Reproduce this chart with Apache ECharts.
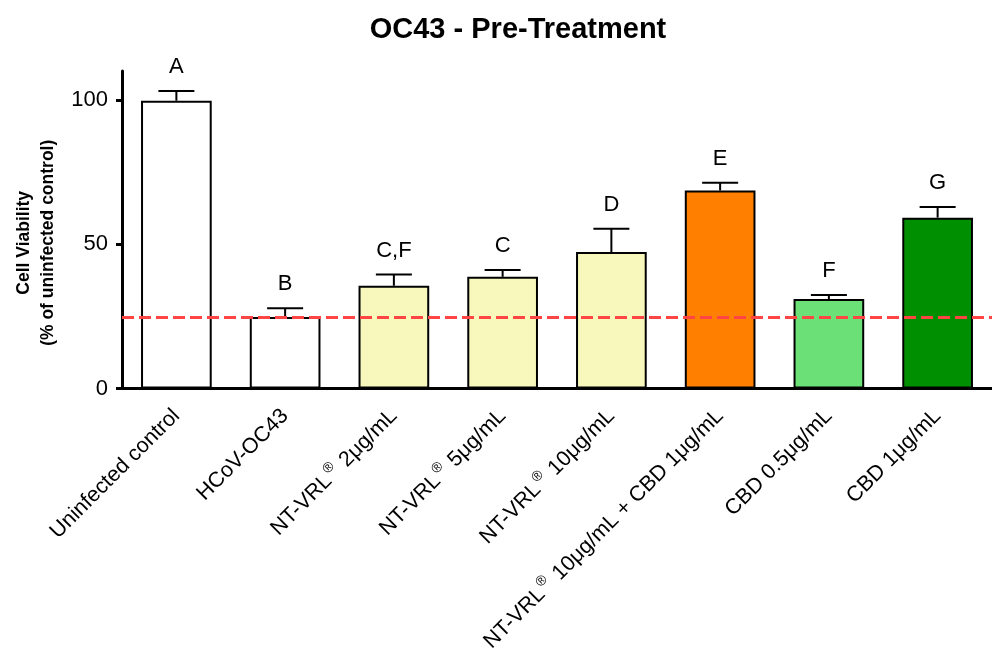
<!DOCTYPE html>
<html>
<head>
<meta charset="utf-8">
<script src="https://cdn.jsdelivr.net/npm/echarts@6/dist/echarts.min.js"></script>
<style>
html,body{margin:0;padding:0;background:#fff;}
#c{width:992px;height:655px;}
</style>
</head>
<body>
<div id="c"></div>
<script>
var categories = ['Uninfected control','HCoV-OC43','NT-VRL® 2μg/mL','NT-VRL® 5μg/mL','NT-VRL® 10μg/mL','NT-VRL® 10μg/mL + CBD 1μg/mL','CBD 0.5μg/mL','CBD 1μg/mL'];
var means = [99.7, 24.8, 35.6, 38.7, 47.3, 68.6, 31.0, 59.2];
var errors = [3.4, 3.0, 3.9, 2.4, 8.1, 2.7, 1.4, 3.7];
var letters = ['A','B','C,F','C','D','E','F','G'];
var barColors = ['#FFFFFF','#FFFFFF','#F8F8BC','#F8F8BC','#F8F8BC','#FF7F00','#6BE077','#008F00'];
var referenceLine = 24.8;
var yTicks = [0, 50, 100];

var FONT = 'Liberation Sans, Arial, Helvetica, sans-serif';
var chart = echarts.init(document.getElementById('c'), null, {renderer:'canvas'});

var option = {
  animation: false,
  backgroundColor: '#fff',
  title: {
    text: 'OC43 - Pre-Treatment',
    left: 513, top: 10, textAlign: 'center',
    textStyle: {fontFamily: FONT, fontSize: 29, fontWeight: 'bold', color: '#000'}
  },
  grid: {left: 122, right: 0, top: 71, bottom: 265, containLabel: false},
  xAxis: {
    type: 'category',
    data: categories,
    axisLine: {lineStyle: {color: '#000', width: 3}},
    axisTick: {alignWithLabel: true, length: 6, lineStyle: {color: '#000', width: 3}},
    axisLabel: {
      rotate: 45, margin: 24, interval: 0,
      formatter: function (v) {
        return v.split('®').map(function (p) { return '{a|' + p + '}'; }).join('{s|®}');
      },
      rich: {
        a: {fontFamily: FONT, fontSize: 21.5, color: '#000'},
        s: {fontFamily: FONT, fontSize: 14, color: '#000', verticalAlign: 'top', padding: [0, 2, 14, 2]}
      }
    }
  },
  yAxis: {
    type: 'value', min: 0, max: 110, interval: 50,
    name: 'Cell Viability\n(% of uninfected control)',
    nameLocation: 'middle', nameGap: 62, nameRotate: 90,
    nameTextStyle: {fontFamily: FONT, fontSize: 17.5, fontWeight: 'bold', color: '#000', lineHeight: 24, padding: [0, 26, 0, 0]},
    axisLine: {show: true, lineStyle: {color: '#000', width: 3}},
    axisTick: {show: true, length: 6, lineStyle: {color: '#000', width: 3}, customValues: yTicks},
    axisLabel: {fontFamily: FONT, fontSize: 22, color: '#000', margin: 14, customValues: yTicks},
    splitLine: {show: false}
  },
  series: [
    {
      type: 'bar',
      data: means.map(function (m, i) {
        return {value: m, itemStyle: {color: barColors[i]}};
      }),
      barWidth: '65%',
      itemStyle: {borderColor: '#000', borderWidth: 2},
      z: 2,
      markLine: {
        silent: true, symbol: 'none',
        label: {show: false},
        lineStyle: {color: '#FF4444', width: 3, type: [12, 5]},
        data: [{yAxis: referenceLine}],
        z: 10
      }
    },
    {
      type: 'custom',
      z: 3,
      data: means.map(function (m, i) { return [i, m, errors[i]]; }),
      renderItem: function (params, api) {
        var i = api.value(0);
        var base = api.coord([i, api.value(1)]);
        var top = api.coord([i, api.value(1) + api.value(2)]);
        var half = 18;
        return {
          type: 'group',
          children: [
            {type: 'line', shape: {x1: base[0], y1: base[1], x2: top[0], y2: top[1]}, style: {stroke: '#000', lineWidth: 2}},
            {type: 'line', shape: {x1: top[0] - half, y1: top[1], x2: top[0] + half, y2: top[1]}, style: {stroke: '#000', lineWidth: 2}},
            {type: 'text', x: top[0], y: top[1] - 24, style: {text: letters[i], fontFamily: FONT, fontSize: 22, fill: '#000', align: 'center', verticalAlign: 'middle'}}
          ]
        };
      }
    }
  ]
};
chart.setOption(option);
</script>
</body>
</html>
